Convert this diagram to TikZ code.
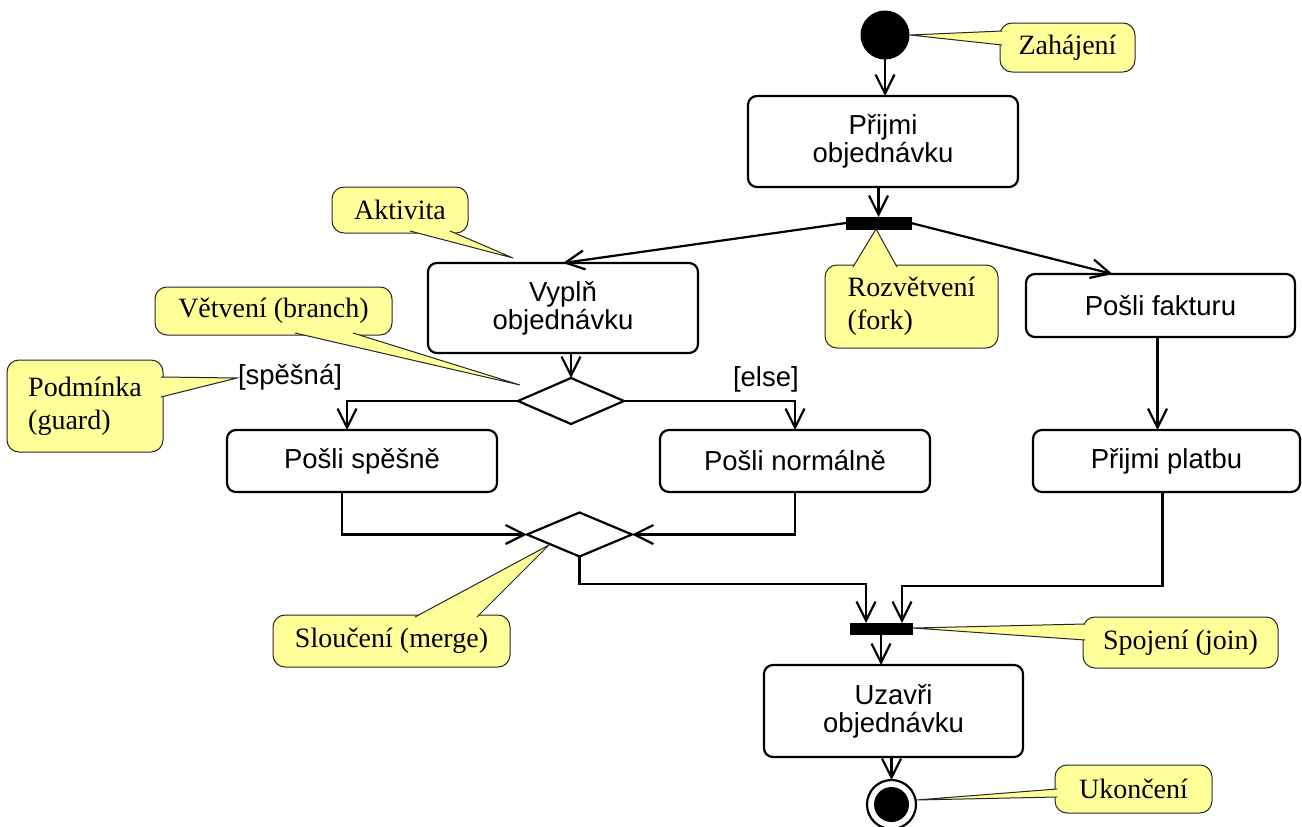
\documentclass[tikz,border=0pt]{standalone}
\usepackage{fontspec}
\setmainfont{Liberation Serif}
\newfontfamily\actfont{Liberation Sans}
\usetikzlibrary{arrows.meta,calc,shapes.geometric}
\definecolor{notefill}{RGB}{255,255,153}
% wedge of a note: base point, tip, base point
\newcommand\notepointer[3]{%
  \fill[tipfill] #1 -- #2 -- #3 -- cycle;
  \draw[tipline] #1 -- #2 -- #3;}
\begin{document}
\begin{tikzpicture}[x=1pt,y=-1pt,
  every node/.style={inner sep=0pt,outer sep=0pt},
  act/.style={draw,line width=2.2pt,rounded corners=9pt,align=center,
    font=\actfont\fontsize{27.5}{28}\selectfont},
  syncbar/.style={draw,fill=black,line width=1pt},
  decision/.style={draw,diamond,line width=2.2pt},
  guard/.style={font=\actfont\fontsize{27.5}{28}\selectfont},
  note/.style={draw=black!85,fill=notefill,line width=1pt,rounded corners=12pt,
    align=left,font=\fontsize{28}{33}\selectfont},
  tipfill/.style={fill=notefill},
  tipline/.style={draw=black!85,line width=1pt},
  flow/.style={line width=2.2pt,-{Straight Barb[length=19pt,width=19pt]}}
]
\path[use as bounding box] (0,0) rectangle (1302,827);

% initial and final states
\node[circle,fill=black,draw,line width=1pt,minimum size=48pt] (start) at (885,35) {};
\node[circle,draw,line width=2.2pt,fill=white,minimum size=49pt] (end) at (891.5,804.5) {};
\fill (end.center) circle (17.5pt);

% actions
\node[act,minimum width=270pt,minimum height=91pt] (prijmi) at (883,141.5) {Přijmi\\objednávku};
\node[act,minimum width=270pt,minimum height=90pt] (vypln) at (563,308) {Vyplň\\objednávku};
\node[act,minimum width=269pt,minimum height=63pt] (faktura) at (1160.5,305.5) {Pošli fakturu};
\node[act,minimum width=267pt,minimum height=62pt] (platba) at (1166.5,461) {Přijmi platbu};
\node[act,minimum width=270pt,minimum height=62pt] (spesne) at (362,461) {Pošli spěšně};
\node[act,minimum width=270pt,minimum height=62pt] (normalne) at (795,461) {Pošli normálně};
\node[act,minimum width=259pt,minimum height=92pt] (uzavri) at (893.5,711) {Uzavři\\objednávku};

% fork / join bars
\node[syncbar,minimum width=65pt,minimum height=12pt] (fork) at (878.5,223) {};
\node[syncbar,minimum width=62pt,minimum height=11pt] (join) at (881,628.5) {};

% branch / merge
\node[decision,minimum width=106pt,minimum height=46pt] (branch) at (571,401) {};
\node[decision,minimum width=105pt,minimum height=44pt] (merge) at (579.5,534.5) {};

% guards
\node[guard,anchor=west] (gfast) at (238,377) {[spěšná]};
\node[guard,anchor=west] (gelse) at (733,379) {[else]};

% control flow
\draw[flow] (start) -- (start |- prijmi.north);
\draw[flow] (fork.north |- prijmi.south) -- (fork.north);
\draw[flow] (fork.west) -- (vypln.north);
\draw[flow] (fork.east) -- ([xshift=-48pt]faktura.north);
\draw[flow] ([xshift=-3pt]faktura.south) -- ([xshift=-3pt]faktura.south |- platba.north);
\draw[flow] (branch.north |- vypln.south) -- (branch.north);
\draw[flow] (branch.west) -| ([xshift=-15pt]spesne.north);
\draw[flow] (branch.east) -| (normalne.north);
\draw[flow] ([xshift=-20pt]spesne.south) |- (merge.west);
\draw[flow] (normalne.south) |- (merge.east);
\coordinate (mL) at (866,584);
\coordinate (mR) at (902,586);
\draw[flow] (merge.south) |- (mL) -- (mL |- join.north);
\draw[flow] ([xshift=-4pt]platba.south) |- (mR) -- (mR |- join.north);
\draw[flow] (join.south) -- (join.south |- uzavri.north);
\draw[flow] (end.north |- uzavri.south) -- (end.north);

% notes
\node[note,minimum width=135pt,minimum height=49pt] (nzah) at (1067.5,47.5) {Zahájení};
\notepointer{(1002,31)}{(910,35)}{(1002,45)}
\node[note,minimum width=136pt,minimum height=46pt] (nakt) at (400,210) {Aktivita};
\notepointer{(410,231)}{(513,258)}{(450,231)}
\node[note,minimum width=173pt,minimum height=83pt] (nroz) at (911.5,306.5) {Rozvětvení\\(fork)};
\notepointer{(853,267)}{(876,229)}{(897,267)}
\node[note,minimum width=237pt,minimum height=48pt] (nvet) at (273.5,311) {Větvení (branch)};
\notepointer{(295,333)}{(520,385)}{(353,333)}
\node[note,minimum width=156pt,minimum height=92pt] (npod) at (85,406) {Podmínka\\(guard)};
\notepointer{(161,377)}{(237,378)}{(161,397)}
\node[note,minimum width=237pt,minimum height=52pt] (nslo) at (391.5,641) {Sloučení (merge)};
\notepointer{(415,617)}{(549,545)}{(477,617)}
\node[note,minimum width=195pt,minimum height=51pt] (nspo) at (1180.5,642.5) {Spojení (join)};
\notepointer{(1085,624)}{(913,628)}{(1085,640)}
\node[note,minimum width=157pt,minimum height=48pt] (nuko) at (1133.5,789) {Ukončení};
\notepointer{(1057,789)}{(916,800)}{(1057,797)}
\end{tikzpicture}
\end{document}
